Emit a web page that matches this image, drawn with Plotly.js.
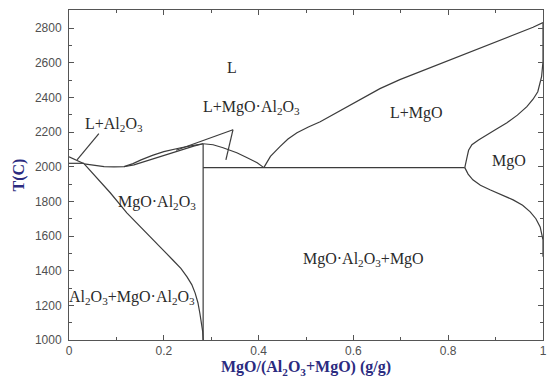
<!DOCTYPE html>
<html>
<head>
<meta charset="utf-8">
<script src="https://cdn.plot.ly/plotly-3.0.1.min.js"></script>
<style>html,body{margin:0;padding:0;background:#fff;}#chart{width:548px;height:383px;}</style>
</head>
<body>
<div id="chart"></div>
<script>
// Phase boundaries: x = MgO/(Al2O3+MgO) (g/g), T in C
const alLiqX = [0, 0.032];
const alLiqT = [2058, 2017];
const eutLeftX = [0, 0.032];
const eutLeftT = [2020, 2020];
const spLowerX = [0.032, 0.053, 0.074, 0.095, 0.116, 0.137, 0.158, 0.180, 0.200, 0.222, 0.243, 0.263, 0.283];
const spLowerT = [2017, 2007, 2001, 1999, 2000, 2011, 2029, 2049, 2069, 2087, 2104, 2119, 2133];
const spUpperX = [0.116, 0.135, 0.152, 0.176, 0.200, 0.218, 0.236, 0.260, 0.283];
const spUpperT = [2001, 2018, 2040, 2066, 2087, 2099, 2110, 2122, 2133];
const spRightX = [0.283, 0.304, 0.325, 0.340, 0.354, 0.376, 0.397, 0.411];
const spRightT = [2133, 2127, 2110, 2096, 2081, 2052, 2023, 1995];
const mgLiqX = [0.411, 0.425, 0.445, 0.462, 0.481, 0.505, 0.530, 0.586, 0.656, 0.698, 0.768, 0.840, 0.909, 0.979, 1.0];
const mgLiqT = [1995, 2060, 2116, 2160, 2196, 2230, 2260, 2347, 2451, 2503, 2578, 2656, 2730, 2805, 2832];
const mgSolX = [1.0, 1.0, 0.997, 0.989, 0.979, 0.966, 0.946, 0.924, 0.902, 0.882, 0.864, 0.850, 0.843, 0.840, 0.837, 0.835];
const mgSolT = [2832, 2607, 2520, 2433, 2390, 2347, 2298, 2254, 2218, 2185, 2155, 2127, 2095, 2058, 2025, 1995];
const mgSolvX = [0.835, 0.842, 0.852, 0.868, 0.888, 0.912, 0.937, 0.957, 0.973, 0.985, 0.994, 1.0, 1.0];
const mgSolvT = [1995, 1958, 1925, 1893, 1867, 1838, 1809, 1778, 1740, 1700, 1653, 1578, 1480];
const spSolvX = [0.032, 0.060, 0.087, 0.122, 0.156, 0.192, 0.219, 0.236, 0.249, 0.259, 0.266, 0.272, 0.276, 0.280, 0.282, 0.283];
const spSolvT = [2017, 1931, 1850, 1734, 1636, 1538, 1462, 1413, 1364, 1320, 1272, 1215, 1156, 1100, 1050, 1000];
const spVertX = [0.283, 0.283];
const spVertT = [1000, 2133];
const eutRightX = [0.283, 0.835];
const eutRightT = [1995, 1995];
// label pointer lines
const ptr1X = [0.063, 0.017], ptr1T = [2191, 2040];
const ptr2X = [0.346, 0.226], ptr2T = [2214, 2095];
const ptr3X = [0.346, 0.331], ptr3T = [2214, 2040];

// region labels
const labelText = ['L', 'L+Al<sub>2</sub>O<sub>3</sub>', 'L+MgO·Al<sub>2</sub>O<sub>3</sub>', 'L+MgO', 'MgO',
  'MgO·Al<sub>2</sub>O<sub>3</sub>', 'MgO·Al<sub>2</sub>O<sub>3</sub>+MgO', 'Al<sub>2</sub>O<sub>3</sub>+MgO·Al<sub>2</sub>O<sub>3</sub>'];
const labelX = [0.344, 0.095, 0.386, 0.734, 0.928, 0.186, 0.622, 0.133];
const labelT = [2572, 2243, 2341, 2312, 2035, 1792, 1462, 1243];

const xTicks = [0, 0.2, 0.4, 0.6, 0.8, 1];
const yTicks = [1000, 1200, 1400, 1600, 1800, 2000, 2200, 2400, 2600, 2800];

const lineStyle = {color: '#3c3c3c', width: 1.2};
function tr(x, y) {
  return {x: x, y: y, mode: 'lines', type: 'scatter', hoverinfo: 'skip',
    line: Object.assign({}, lineStyle)};
}
const data = [
  tr(alLiqX, alLiqT), tr(eutLeftX, eutLeftT),
  tr(spLowerX, spLowerT), tr(spUpperX, spUpperT), tr(spRightX, spRightT),
  tr(mgLiqX, mgLiqT), tr(mgSolX, mgSolT), tr(mgSolvX, mgSolvT),
  tr(spSolvX, spSolvT), tr(spVertX, spVertT), tr(eutRightX, eutRightT),
  tr(ptr1X, ptr1T), tr(ptr2X, ptr2T), tr(ptr3X, ptr3T)
];

const annotations = labelText.map((t, i) => ({
  x: labelX[i], y: labelT[i], text: t, showarrow: false,
  font: {family: 'Liberation Serif, Times New Roman, serif', size: 16, color: '#2a2a2a'},
  xanchor: 'center', yanchor: 'middle'
}));

const axisCommon = {
  showgrid: false, zeroline: false, showline: true, linecolor: '#555', linewidth: 1,
  mirror: 'ticks', ticks: 'inside', ticklen: 5, tickcolor: '#555',
  tickfont: {family: 'Liberation Sans, Arial, sans-serif', size: 12, color: '#505050'}
};

const layout = {
  width: 548, height: 383,
  margin: {l: 69, r: 5, t: 10, b: 43},
  paper_bgcolor: '#fff', plot_bgcolor: '#fff',
  showlegend: false,
  xaxis: Object.assign({}, axisCommon, {
    range: [0, 1], tickvals: xTicks, ticktext: xTicks.map(String),
    minor: {tickvals: [0.1, 0.3, 0.5, 0.7, 0.9], ticks: 'inside', ticklen: 3, tickcolor: '#555'},
    title: {text: 'MgO/(Al<sub>2</sub>O<sub>3</sub>+MgO) (g/g)', standoff: 2,
      font: {family: 'Liberation Serif, Times New Roman, serif', size: 16, color: '#2b2b80', weight: 'bold'}}
  }),
  yaxis: Object.assign({}, axisCommon, {
    range: [1000, 2905], tickvals: yTicks, ticktext: yTicks.map(String),
    minor: {dtick: 100, ticks: 'inside', ticklen: 3, tickcolor: '#555'},
    ticklabelstandoff: 4,
    title: {text: 'T(C)', standoff: 6,
      font: {family: 'Liberation Serif, Times New Roman, serif', size: 16, color: '#2b2b80', weight: 'bold'}}
  }),
  annotations: annotations
};

Plotly.newPlot('chart', data, layout, {staticPlot: true, displayModeBar: false});
</script>
</body>
</html>
